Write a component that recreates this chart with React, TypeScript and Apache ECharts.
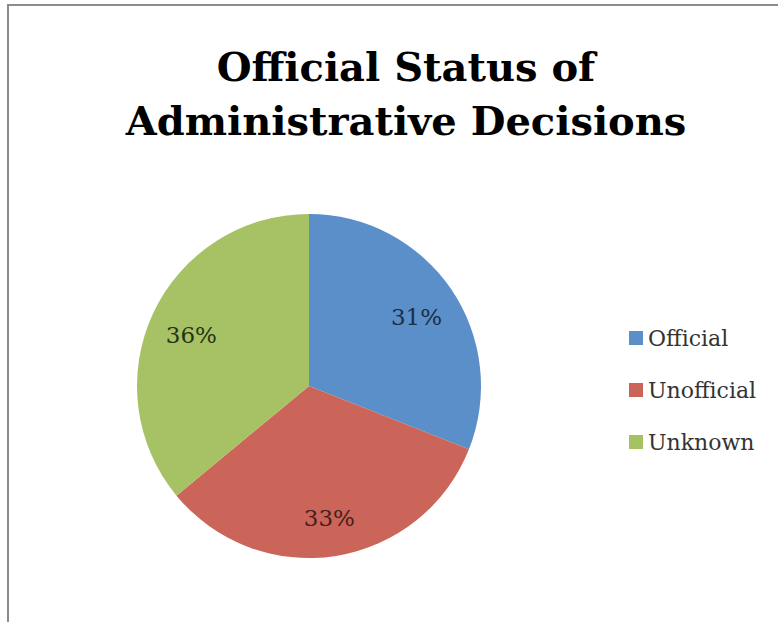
import React, { useEffect, useRef } from "react";
import * as echarts from "echarts";

const titleLines = ["Official Status of", "Administrative Decisions"];
const categories = ["Official", "Unofficial", "Unknown"];
const values = [31, 33, 36];
const sliceColors = ["#5B8FC9", "#CB6459", "#A7C265"];
const labelColors = ["#1c2e45", "#46201c", "#263314"];

export default function App() {
  const ref = useRef<HTMLDivElement>(null);
  useEffect(() => {
    if (!ref.current) return;
    const chart = echarts.init(ref.current, undefined, { renderer: "svg" });
    const data = categories.map((name, i) => ({
      name,
      value: values[i],
      itemStyle: { color: sliceColors[i] },
    }));
    const labelData = categories.map((name, i) => ({
      name,
      value: values[i],
      itemStyle: { color: "rgba(0,0,0,0)" },
      label: { color: labelColors[i] },
    }));
    chart.setOption({
      animation: false,
      backgroundColor: "#ffffff",
      title: {
        text: titleLines.join("\n"),
        left: 401,
        top: 34,
        textAlign: "center",
        textStyle: {
          fontFamily: "DejaVu Serif",
          fontWeight: "bold",
          fontSize: 40,
          lineHeight: 54,
          color: "#000000",
        },
      },
      legend: {
        orient: "vertical",
        left: 624,
        top: 320,
        icon: "rect",
        itemWidth: 14,
        itemHeight: 14,
        itemGap: 26,
        data: categories,
        textStyle: {
          fontFamily: "DejaVu Serif",
          fontSize: 22,
          lineHeight: 26,
          color: "#333333",
        },
      },
      graphic: [
        {
          type: "rect",
          shape: { x: 8, y: 5, width: 900, height: 800 },
          style: { fill: "none", stroke: "#8c8c8c", lineWidth: 2 },
          z: -10,
          silent: true,
        },
      ],
      series: [
        {
          type: "pie",
          center: [309, 386],
          radius: [0, 172],
          startAngle: 90,
          clockwise: true,
          data,
          label: { show: false },
          labelLine: { show: false },
          emphasis: { disabled: true },
        },
        {
          type: "pie",
          center: [309, 390],
          radius: [0, 254],
          startAngle: 90,
          clockwise: true,
          silent: true,
          legendHoverLink: false,
          data: labelData,
          label: {
            show: true,
            position: "inside",
            formatter: (p: any) => `${p.value}%`,
            fontFamily: "DejaVu Serif",
            fontSize: 23,
          },
          labelLine: { show: false },
          emphasis: { disabled: true },
          z: 3,
        },
      ],
    });
    return () => chart.dispose();
  }, []);
  return (
    <div
      ref={ref}
      style={{ position: "absolute", left: 0, top: 0, width: 778, height: 622 }}
    />
  );
}
